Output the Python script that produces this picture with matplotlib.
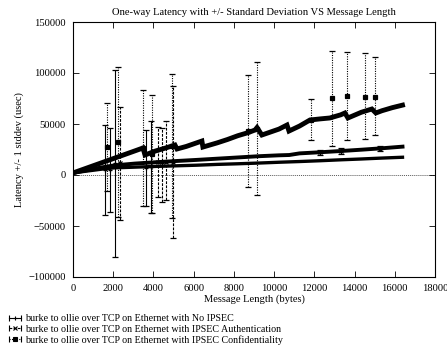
"""
One-way latency (+/- 1 stddev) against message length for burke -> ollie
over TCP on Ethernet, with and without IPSEC.
"""
import matplotlib
matplotlib.use('Agg')
import matplotlib.pyplot as plt
from matplotlib.lines import Line2D
from matplotlib.legend_handler import HandlerLine2D, HandlerTuple

plt.rcParams['font.family'] = ['Liberation Serif', 'DejaVu Serif']
plt.rcParams['font.size'] = 7.6

# mean latency (usec) read along each band
plain_len = [0, 512, 1024, 1536, 2048, 3072, 4096, 5120, 6144, 7168, 8192,
             9216, 10240, 11264, 12288, 13312, 14336, 15360, 16384]
plain_lat = [2000, 3400, 4700, 6000, 7000, 7700, 8400, 9000, 9600, 10400,
             11000, 11700, 12500, 13200, 14000, 14900, 15700, 16600, 17400]

auth_len = [0, 512, 1024, 1536, 2048, 3072, 4096, 5120, 6144, 7168, 8192,
            9216, 10240, 10752, 11264, 12288, 13312, 14336, 15360, 16384]
auth_lat = [2000, 4000, 6000, 7800, 9400, 11200, 12500, 13700, 14800, 16000,
            17200, 18400, 19300, 19600, 21200, 22300, 23500, 24800, 26200,
            27800]

conf_len = [0, 1024, 2048, 3072, 3480, 3580, 4096, 4608, 5070, 5170, 5632,
            6144, 6410, 6460, 7168, 7680, 8192, 8700, 9050, 9150, 9390, 9728,
            10240, 10640, 10740, 11264, 11780, 12288, 12770, 13312, 13520,
            13670, 14336, 14860, 15060, 15360, 15872, 16384]
conf_lat = [2000, 9200, 16400, 23600, 26500, 19600, 23500, 26500, 29400,
            25500, 28000, 31500, 33300, 27400, 31500, 34800, 38500, 41500,
            44100, 46500, 39200, 41500, 45000, 49000, 43100, 48000, 53900,
            55000, 55900, 59000, 60800, 55900, 61500, 64700, 60800, 63000,
            66000, 68500]

# points with large spread: length, mean, mean - sd, mean + sd
plain_err_len = [1570, 1840, 2090, 3610, 3880]
plain_err_mid = [4900, 4900, 11300, 6900, 7800]
plain_err_lo = [-39200, -36300, -80400, -30400, -37200]
plain_err_hi = [49000, 46000, 103000, 44100, 52900]

auth_err_len = [2340, 4240, 4440, 4600, 4950, 12280, 13320, 15260]
auth_err_mid = [11300, 12700, 12700, 13000, 13000, 22300, 23500, 25900]
auth_err_lo = [-44000, -21600, -26500, -24500, -61700, 19800, 20900, 23200]
auth_err_hi = [66600, 47000, 46000, 52900, 87700, 24800, 26100, 28600]

conf_err_len = [1700, 2220, 3500, 3910, 4900, 8700, 9130, 11830, 12860,
                13600, 14510, 15040]
conf_err_mid = [27400, 32300, 26500, 20600, 28400, 43100, 45500, 54400,
                75500, 77400, 76700, 76700]
conf_err_lo = [-15800, -41000, -30400, -37200, -42000, -11800, -19600,
               34300, 28400, 34300, 35300, 39200]
conf_err_hi = [70600, 105800, 83300, 78400, 99000, 98000, 110700, 74500,
               121500, 120500, 119600, 115600]

labels = ['burke to ollie over TCP on Ethernet with No IPSEC',
          'burke to ollie over TCP on Ethernet with IPSEC Authentication',
          'burke to ollie over TCP on Ethernet with IPSEC Confidentiality']

fig = plt.figure(figsize=(4.47, 3.57), dpi=100)
ax = fig.add_axes([73/447, 1-277/357, 362/447, 255/357])

ax.axhline(0, color='0.35', ls=(0, (1, 1)), lw=0.7, zorder=1)

series = [
    (plain_len, plain_lat, plain_err_len, plain_err_mid, plain_err_lo,
     plain_err_hi, '+', '-', 2.4),
    (auth_len, auth_lat, auth_err_len, auth_err_mid, auth_err_lo,
     auth_err_hi, 'x', (0, (2.5, 1.2)), 2.8),
    (conf_len, conf_lat, conf_err_len, conf_err_mid, conf_err_lo,
     conf_err_hi, 's', (0, (1, 1.2)), 3.5),
]
handles = []
hmap = {}
for (xs, ys, ex, em, elo, ehi, mk, bls, lw) in series:
    ax.plot(xs, ys, color='k', lw=lw, solid_joinstyle='miter', zorder=3)
    lo = [m - l for m, l in zip(em, elo)]
    hi = [h - m for m, h in zip(em, ehi)]
    eb = ax.errorbar(ex, em, yerr=[lo, hi], fmt=mk, color='k', ms=3.5,
                     mew=0.9, ecolor='k', elinewidth=0.8, capsize=2,
                     capthick=0.8, zorder=4)
    eb[2][0].set_linestyle(bls)
    # key sample drawn gnuplot-style: |-| with the point in the middle
    cap = Line2D([], [], color='k', lw=0.8, ls=bls, marker='|', ms=4,
                 mew=0.8)
    mid = Line2D([], [], color='k', ls='none', marker=mk, ms=3.2, mew=0.8)
    hmap[cap] = HandlerLine2D(numpoints=2, marker_pad=0)
    hmap[mid] = HandlerLine2D(numpoints=1)
    handles.append((cap, mid))
hmap[tuple] = HandlerTuple(ndivide=1, pad=0)

ax.set_xlim(0, 18000)
ax.set_ylim(-100000, 150000)
ax.set_xticks(range(0, 18001, 2000))
ax.set_yticks(range(-100000, 150001, 50000))
ax.tick_params(direction='in', top=True, right=True, length=4, width=0.6,
               pad=5)
for s in ax.spines.values():
    s.set_linewidth(0.8)

ax.set_title('One-way Latency with +/- Standard Deviation VS Message Length',
             fontsize=7.6, pad=5)
ax.set_xlabel('Message Length (bytes)', labelpad=1)
ax.set_ylabel('Latency +/- 1 stddev (usec)', labelpad=3)

fig.legend(handles, labels, handler_map=hmap, loc='upper left',
           bbox_to_anchor=(9/447, 1-314/357), frameon=False, borderpad=0,
           borderaxespad=0, handlelength=1.2, handletextpad=0.4,
           labelspacing=0.15, fontsize=7.2)

fig.savefig('out.png', dpi=100)
